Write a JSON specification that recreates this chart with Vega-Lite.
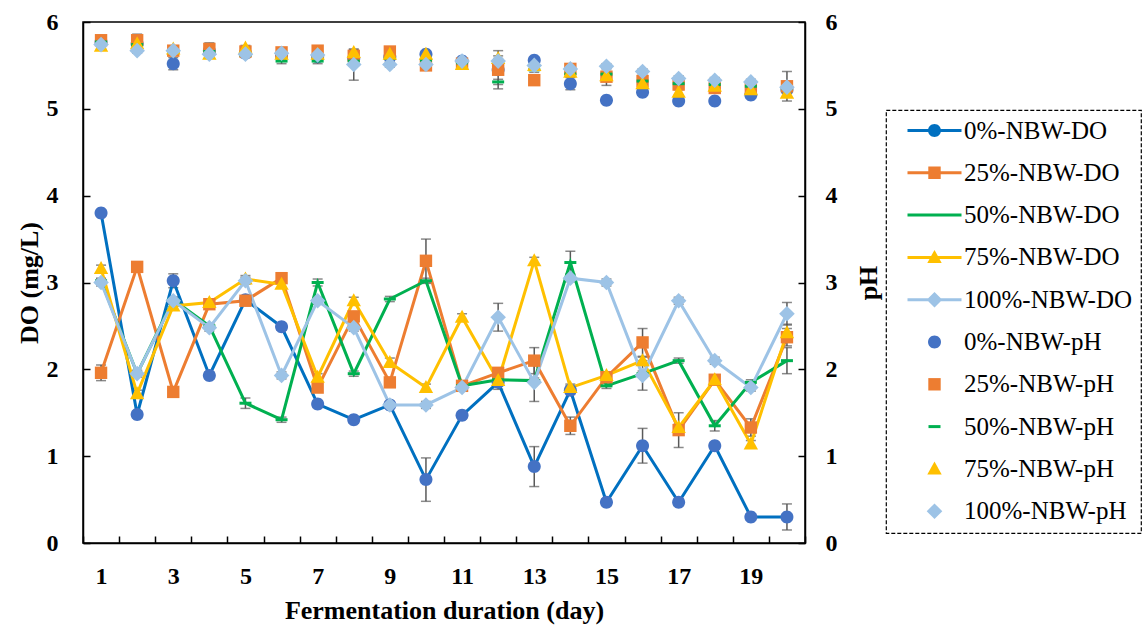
{
  "$schema": "https://vega.github.io/schema/vega-lite/v6.json",
  "autosize": {"type": "none"},
  "padding": {"left": 83, "top": 22, "right": 343, "bottom": 85},
  "width": 722,
  "height": 521,
  "background": "white",
  "config": {
    "view": {"stroke": "black", "strokeWidth": 1.5},
    "font": "Liberation Serif",
    "axis": {
      "labelFont": "Liberation Serif", "labelFontSize": 24, "labelFontWeight": "bold", "labelColor": "black",
      "titleFont": "Liberation Serif", "titleFontSize": 26, "titleFontWeight": "bold", "titleColor": "black",
      "domainColor": "black", "domainWidth": 1.5, "tickColor": "black", "tickWidth": 1.5, "grid": false
    }
  },
  "datasets": {
    "d": [
      {"day":1,"s":"0%-NBW-DO","k":"DO","v":3.80,"e":0.04},{"day":2,"s":"0%-NBW-DO","k":"DO","v":1.48,"e":0.04},{"day":3,"s":"0%-NBW-DO","k":"DO","v":3.02,"e":0.08},{"day":4,"s":"0%-NBW-DO","k":"DO","v":1.93,"e":0.04},{"day":5,"s":"0%-NBW-DO","k":"DO","v":2.80,"e":0.04},{"day":6,"s":"0%-NBW-DO","k":"DO","v":2.49,"e":0.04},{"day":7,"s":"0%-NBW-DO","k":"DO","v":1.60,"e":0.04},{"day":8,"s":"0%-NBW-DO","k":"DO","v":1.42,"e":0.04},{"day":9,"s":"0%-NBW-DO","k":"DO","v":1.59,"e":0.04},{"day":10,"s":"0%-NBW-DO","k":"DO","v":0.73,"e":0.25},{"day":11,"s":"0%-NBW-DO","k":"DO","v":1.47,"e":0.04},{"day":12,"s":"0%-NBW-DO","k":"DO","v":1.85,"e":0.04},{"day":13,"s":"0%-NBW-DO","k":"DO","v":0.88,"e":0.23},{"day":14,"s":"0%-NBW-DO","k":"DO","v":1.76,"e":0.05},{"day":15,"s":"0%-NBW-DO","k":"DO","v":0.47,"e":0.04},{"day":16,"s":"0%-NBW-DO","k":"DO","v":1.12,"e":0.2},{"day":17,"s":"0%-NBW-DO","k":"DO","v":0.47,"e":0.04},{"day":18,"s":"0%-NBW-DO","k":"DO","v":1.12,"e":0.04},{"day":19,"s":"0%-NBW-DO","k":"DO","v":0.30,"e":0.03},{"day":20,"s":"0%-NBW-DO","k":"DO","v":0.30,"e":0.15},
      {"day":1,"s":"25%-NBW-DO","k":"DO","v":1.96,"e":0.09},{"day":2,"s":"25%-NBW-DO","k":"DO","v":3.18,"e":0.04},{"day":3,"s":"25%-NBW-DO","k":"DO","v":1.74,"e":0.04},{"day":4,"s":"25%-NBW-DO","k":"DO","v":2.75,"e":0.04},{"day":5,"s":"25%-NBW-DO","k":"DO","v":2.79,"e":0.04},{"day":6,"s":"25%-NBW-DO","k":"DO","v":3.05,"e":0.04},{"day":7,"s":"25%-NBW-DO","k":"DO","v":1.79,"e":0.04},{"day":8,"s":"25%-NBW-DO","k":"DO","v":2.61,"e":0.04},{"day":9,"s":"25%-NBW-DO","k":"DO","v":1.85,"e":0.04},{"day":10,"s":"25%-NBW-DO","k":"DO","v":3.25,"e":0.25},{"day":11,"s":"25%-NBW-DO","k":"DO","v":1.81,"e":0.04},{"day":12,"s":"25%-NBW-DO","k":"DO","v":1.96,"e":0.04},{"day":13,"s":"25%-NBW-DO","k":"DO","v":2.10,"e":0.15},{"day":14,"s":"25%-NBW-DO","k":"DO","v":1.35,"e":0.1},{"day":15,"s":"25%-NBW-DO","k":"DO","v":1.91,"e":0.04},{"day":16,"s":"25%-NBW-DO","k":"DO","v":2.31,"e":0.16},{"day":17,"s":"25%-NBW-DO","k":"DO","v":1.30,"e":0.2},{"day":18,"s":"25%-NBW-DO","k":"DO","v":1.88,"e":0.05},{"day":19,"s":"25%-NBW-DO","k":"DO","v":1.33,"e":0.1},{"day":20,"s":"25%-NBW-DO","k":"DO","v":2.37,"e":0.1},
      {"day":1,"s":"50%-NBW-DO","k":"DO","v":3.02,"e":0.03},{"day":2,"s":"50%-NBW-DO","k":"DO","v":1.95,"e":0.03},{"day":3,"s":"50%-NBW-DO","k":"DO","v":2.80,"e":0.03},{"day":4,"s":"50%-NBW-DO","k":"DO","v":2.50,"e":0.03},{"day":5,"s":"50%-NBW-DO","k":"DO","v":1.61,"e":0.06},{"day":6,"s":"50%-NBW-DO","k":"DO","v":1.42,"e":0.03},{"day":7,"s":"50%-NBW-DO","k":"DO","v":3.00,"e":0.04},{"day":8,"s":"50%-NBW-DO","k":"DO","v":1.95,"e":0.03},{"day":9,"s":"50%-NBW-DO","k":"DO","v":2.81,"e":0.03},{"day":10,"s":"50%-NBW-DO","k":"DO","v":3.02,"e":0.03},{"day":11,"s":"50%-NBW-DO","k":"DO","v":1.81,"e":0.03},{"day":12,"s":"50%-NBW-DO","k":"DO","v":1.88,"e":0.03},{"day":13,"s":"50%-NBW-DO","k":"DO","v":1.87,"e":0.03},{"day":14,"s":"50%-NBW-DO","k":"DO","v":3.23,"e":0.13},{"day":15,"s":"50%-NBW-DO","k":"DO","v":1.81,"e":0.03},{"day":16,"s":"50%-NBW-DO","k":"DO","v":1.95,"e":0.03},{"day":17,"s":"50%-NBW-DO","k":"DO","v":2.10,"e":0.03},{"day":18,"s":"50%-NBW-DO","k":"DO","v":1.35,"e":0.06},{"day":19,"s":"50%-NBW-DO","k":"DO","v":1.85,"e":0.03},{"day":20,"s":"50%-NBW-DO","k":"DO","v":2.10,"e":0.15},
      {"day":1,"s":"75%-NBW-DO","k":"DO","v":3.16,"e":0.04},{"day":2,"s":"75%-NBW-DO","k":"DO","v":1.72,"e":0.04},{"day":3,"s":"75%-NBW-DO","k":"DO","v":2.73,"e":0.04},{"day":4,"s":"75%-NBW-DO","k":"DO","v":2.77,"e":0.04},{"day":5,"s":"75%-NBW-DO","k":"DO","v":3.04,"e":0.04},{"day":6,"s":"75%-NBW-DO","k":"DO","v":2.98,"e":0.04},{"day":7,"s":"75%-NBW-DO","k":"DO","v":1.91,"e":0.04},{"day":8,"s":"75%-NBW-DO","k":"DO","v":2.79,"e":0.04},{"day":9,"s":"75%-NBW-DO","k":"DO","v":2.08,"e":0.05},{"day":10,"s":"75%-NBW-DO","k":"DO","v":1.79,"e":0.04},{"day":11,"s":"75%-NBW-DO","k":"DO","v":2.60,"e":0.04},{"day":12,"s":"75%-NBW-DO","k":"DO","v":1.87,"e":0.1},{"day":13,"s":"75%-NBW-DO","k":"DO","v":3.25,"e":0.04},{"day":14,"s":"75%-NBW-DO","k":"DO","v":1.79,"e":0.04},{"day":15,"s":"75%-NBW-DO","k":"DO","v":1.93,"e":0.04},{"day":16,"s":"75%-NBW-DO","k":"DO","v":2.10,"e":0.04},{"day":17,"s":"75%-NBW-DO","k":"DO","v":1.33,"e":0.04},{"day":18,"s":"75%-NBW-DO","k":"DO","v":1.88,"e":0.04},{"day":19,"s":"75%-NBW-DO","k":"DO","v":1.14,"e":0.04},{"day":20,"s":"75%-NBW-DO","k":"DO","v":2.42,"e":0.1},
      {"day":1,"s":"100%-NBW-DO","k":"DO","v":3.00,"e":0.04},{"day":2,"s":"100%-NBW-DO","k":"DO","v":1.95,"e":0.04},{"day":3,"s":"100%-NBW-DO","k":"DO","v":2.79,"e":0.04},{"day":4,"s":"100%-NBW-DO","k":"DO","v":2.48,"e":0.04},{"day":5,"s":"100%-NBW-DO","k":"DO","v":3.02,"e":0.04},{"day":6,"s":"100%-NBW-DO","k":"DO","v":1.93,"e":0.04},{"day":7,"s":"100%-NBW-DO","k":"DO","v":2.79,"e":0.04},{"day":8,"s":"100%-NBW-DO","k":"DO","v":2.48,"e":0.04},{"day":9,"s":"100%-NBW-DO","k":"DO","v":1.59,"e":0.04},{"day":10,"s":"100%-NBW-DO","k":"DO","v":1.59,"e":0.04},{"day":11,"s":"100%-NBW-DO","k":"DO","v":1.79,"e":0.04},{"day":12,"s":"100%-NBW-DO","k":"DO","v":2.60,"e":0.16},{"day":13,"s":"100%-NBW-DO","k":"DO","v":1.85,"e":0.22},{"day":14,"s":"100%-NBW-DO","k":"DO","v":3.05,"e":0.04},{"day":15,"s":"100%-NBW-DO","k":"DO","v":3.00,"e":0.04},{"day":16,"s":"100%-NBW-DO","k":"DO","v":1.93,"e":0.17},{"day":17,"s":"100%-NBW-DO","k":"DO","v":2.79,"e":0.04},{"day":18,"s":"100%-NBW-DO","k":"DO","v":2.10,"e":0.04},{"day":19,"s":"100%-NBW-DO","k":"DO","v":1.79,"e":0.04},{"day":20,"s":"100%-NBW-DO","k":"DO","v":2.64,"e":0.13},
      {"day":1,"s":"0%-NBW-pH","k":"pH","v":5.77,"e":0.03},{"day":2,"s":"0%-NBW-pH","k":"pH","v":5.75,"e":0.03},{"day":3,"s":"0%-NBW-pH","k":"pH","v":5.52,"e":0.07},{"day":4,"s":"0%-NBW-pH","k":"pH","v":5.67,"e":0.03},{"day":5,"s":"0%-NBW-pH","k":"pH","v":5.64,"e":0.03},{"day":6,"s":"0%-NBW-pH","k":"pH","v":5.62,"e":0.03},{"day":7,"s":"0%-NBW-pH","k":"pH","v":5.60,"e":0.03},{"day":8,"s":"0%-NBW-pH","k":"pH","v":5.58,"e":0.03},{"day":9,"s":"0%-NBW-pH","k":"pH","v":5.60,"e":0.03},{"day":10,"s":"0%-NBW-pH","k":"pH","v":5.63,"e":0.03},{"day":11,"s":"0%-NBW-pH","k":"pH","v":5.55,"e":0.03},{"day":12,"s":"0%-NBW-pH","k":"pH","v":5.45,"e":0.03},{"day":13,"s":"0%-NBW-pH","k":"pH","v":5.56,"e":0.03},{"day":14,"s":"0%-NBW-pH","k":"pH","v":5.29,"e":0.07},{"day":15,"s":"0%-NBW-pH","k":"pH","v":5.10,"e":0.03},{"day":16,"s":"0%-NBW-pH","k":"pH","v":5.19,"e":0.03},{"day":17,"s":"0%-NBW-pH","k":"pH","v":5.09,"e":0.03},{"day":18,"s":"0%-NBW-pH","k":"pH","v":5.09,"e":0.03},{"day":19,"s":"0%-NBW-pH","k":"pH","v":5.16,"e":0.03},{"day":20,"s":"0%-NBW-pH","k":"pH","v":5.22,"e":0.03},
      {"day":1,"s":"25%-NBW-pH","k":"pH","v":5.79,"e":0.03},{"day":2,"s":"25%-NBW-pH","k":"pH","v":5.79,"e":0.07},{"day":3,"s":"25%-NBW-pH","k":"pH","v":5.67,"e":0.03},{"day":4,"s":"25%-NBW-pH","k":"pH","v":5.69,"e":0.07},{"day":5,"s":"25%-NBW-pH","k":"pH","v":5.66,"e":0.03},{"day":6,"s":"25%-NBW-pH","k":"pH","v":5.65,"e":0.03},{"day":7,"s":"25%-NBW-pH","k":"pH","v":5.67,"e":0.03},{"day":8,"s":"25%-NBW-pH","k":"pH","v":5.61,"e":0.03},{"day":9,"s":"25%-NBW-pH","k":"pH","v":5.66,"e":0.03},{"day":10,"s":"25%-NBW-pH","k":"pH","v":5.50,"e":0.03},{"day":11,"s":"25%-NBW-pH","k":"pH","v":5.52,"e":0.03},{"day":12,"s":"25%-NBW-pH","k":"pH","v":5.45,"e":0.22},{"day":13,"s":"25%-NBW-pH","k":"pH","v":5.33,"e":0.03},{"day":14,"s":"25%-NBW-pH","k":"pH","v":5.46,"e":0.03},{"day":15,"s":"25%-NBW-pH","k":"pH","v":5.37,"e":0.1},{"day":16,"s":"25%-NBW-pH","k":"pH","v":5.32,"e":0.03},{"day":17,"s":"25%-NBW-pH","k":"pH","v":5.28,"e":0.03},{"day":18,"s":"25%-NBW-pH","k":"pH","v":5.24,"e":0.03},{"day":19,"s":"25%-NBW-pH","k":"pH","v":5.24,"e":0.03},{"day":20,"s":"25%-NBW-pH","k":"pH","v":5.26,"e":0.17},
      {"day":1,"s":"50%-NBW-pH","k":"pH","v":5.77,"e":0.03},{"day":2,"s":"50%-NBW-pH","k":"pH","v":5.74,"e":0.03},{"day":3,"s":"50%-NBW-pH","k":"pH","v":5.65,"e":0.03},{"day":4,"s":"50%-NBW-pH","k":"pH","v":5.66,"e":0.03},{"day":5,"s":"50%-NBW-pH","k":"pH","v":5.62,"e":0.03},{"day":6,"s":"50%-NBW-pH","k":"pH","v":5.55,"e":0.03},{"day":7,"s":"50%-NBW-pH","k":"pH","v":5.55,"e":0.03},{"day":8,"s":"50%-NBW-pH","k":"pH","v":5.55,"e":0.03},{"day":9,"s":"50%-NBW-pH","k":"pH","v":5.58,"e":0.03},{"day":10,"s":"50%-NBW-pH","k":"pH","v":5.56,"e":0.03},{"day":11,"s":"50%-NBW-pH","k":"pH","v":5.53,"e":0.03},{"day":12,"s":"50%-NBW-pH","k":"pH","v":5.31,"e":0.03},{"day":13,"s":"50%-NBW-pH","k":"pH","v":5.45,"e":0.03},{"day":14,"s":"50%-NBW-pH","k":"pH","v":5.40,"e":0.03},{"day":15,"s":"50%-NBW-pH","k":"pH","v":5.40,"e":0.03},{"day":16,"s":"50%-NBW-pH","k":"pH","v":5.32,"e":0.03},{"day":17,"s":"50%-NBW-pH","k":"pH","v":5.29,"e":0.03},{"day":18,"s":"50%-NBW-pH","k":"pH","v":5.28,"e":0.03},{"day":19,"s":"50%-NBW-pH","k":"pH","v":5.26,"e":0.03},{"day":20,"s":"50%-NBW-pH","k":"pH","v":5.24,"e":0.03},
      {"day":1,"s":"75%-NBW-pH","k":"pH","v":5.72,"e":0.03},{"day":2,"s":"75%-NBW-pH","k":"pH","v":5.75,"e":0.03},{"day":3,"s":"75%-NBW-pH","k":"pH","v":5.69,"e":0.03},{"day":4,"s":"75%-NBW-pH","k":"pH","v":5.63,"e":0.03},{"day":5,"s":"75%-NBW-pH","k":"pH","v":5.70,"e":0.03},{"day":6,"s":"75%-NBW-pH","k":"pH","v":5.63,"e":0.03},{"day":7,"s":"75%-NBW-pH","k":"pH","v":5.63,"e":0.03},{"day":8,"s":"75%-NBW-pH","k":"pH","v":5.65,"e":0.03},{"day":9,"s":"75%-NBW-pH","k":"pH","v":5.63,"e":0.03},{"day":10,"s":"75%-NBW-pH","k":"pH","v":5.63,"e":0.03},{"day":11,"s":"75%-NBW-pH","k":"pH","v":5.51,"e":0.03},{"day":12,"s":"75%-NBW-pH","k":"pH","v":5.58,"e":0.03},{"day":13,"s":"75%-NBW-pH","k":"pH","v":5.50,"e":0.03},{"day":14,"s":"75%-NBW-pH","k":"pH","v":5.42,"e":0.03},{"day":15,"s":"75%-NBW-pH","k":"pH","v":5.38,"e":0.03},{"day":16,"s":"75%-NBW-pH","k":"pH","v":5.29,"e":0.03},{"day":17,"s":"75%-NBW-pH","k":"pH","v":5.19,"e":0.03},{"day":18,"s":"75%-NBW-pH","k":"pH","v":5.26,"e":0.03},{"day":19,"s":"75%-NBW-pH","k":"pH","v":5.22,"e":0.03},{"day":20,"s":"75%-NBW-pH","k":"pH","v":5.18,"e":0.03},
      {"day":1,"s":"100%-NBW-pH","k":"pH","v":5.74,"e":0.03},{"day":2,"s":"100%-NBW-pH","k":"pH","v":5.67,"e":0.03},{"day":3,"s":"100%-NBW-pH","k":"pH","v":5.67,"e":0.03},{"day":4,"s":"100%-NBW-pH","k":"pH","v":5.63,"e":0.03},{"day":5,"s":"100%-NBW-pH","k":"pH","v":5.63,"e":0.03},{"day":6,"s":"100%-NBW-pH","k":"pH","v":5.64,"e":0.03},{"day":7,"s":"100%-NBW-pH","k":"pH","v":5.62,"e":0.03},{"day":8,"s":"100%-NBW-pH","k":"pH","v":5.51,"e":0.18},{"day":9,"s":"100%-NBW-pH","k":"pH","v":5.51,"e":0.03},{"day":10,"s":"100%-NBW-pH","k":"pH","v":5.51,"e":0.03},{"day":11,"s":"100%-NBW-pH","k":"pH","v":5.55,"e":0.03},{"day":12,"s":"100%-NBW-pH","k":"pH","v":5.55,"e":0.03},{"day":13,"s":"100%-NBW-pH","k":"pH","v":5.50,"e":0.03},{"day":14,"s":"100%-NBW-pH","k":"pH","v":5.46,"e":0.03},{"day":15,"s":"100%-NBW-pH","k":"pH","v":5.49,"e":0.03},{"day":16,"s":"100%-NBW-pH","k":"pH","v":5.43,"e":0.03},{"day":17,"s":"100%-NBW-pH","k":"pH","v":5.35,"e":0.03},{"day":18,"s":"100%-NBW-pH","k":"pH","v":5.33,"e":0.03},{"day":19,"s":"100%-NBW-pH","k":"pH","v":5.31,"e":0.03},{"day":20,"s":"100%-NBW-pH","k":"pH","v":5.25,"e":0.03}
    ]
  },
  "data": {"name": "d"},
  "encoding": {
    "x": {
      "field": "day", "type": "ordinal",
      "scale": {"type": "band", "paddingInner": 0, "paddingOuter": 0},
      "axis": {
        "title": "Fermentation duration (day)", "labelAngle": 0, "tickBand": "extent",
        "labelExpr": "datum.value % 2 == 1 ? datum.label : ''",
        "tickSize": -7, "labelPadding": 28, "titlePadding": 9
      }
    }
  },
  "layer": [
    {
      "transform": [{"filter": "datum.k == 'DO'"}],
      "encoding": {
        "y": {"field": "v", "type": "quantitative", "scale": {"domain": [0, 6]},
          "axis": {"orient": "left", "title": "DO (mg/L)", "values": [0,1,2,3,4,5,6], "tickSize": -7, "labelPadding": 32, "titlePadding": 4}}
      },
      "layer": [
        {"mark": {"type": "errorbar", "color": "#595959", "ticks": {"size": 10}, "rule": {"strokeWidth": 1.5}, "thickness": 1.5},
         "encoding": {"yError": {"field": "e"}}},
        {"mark": {"type": "line", "strokeWidth": 3},
         "encoding": {
           "stroke": {"field": "s", "type": "nominal", "legend": null,
             "scale": {"domain": ["0%-NBW-DO","25%-NBW-DO","50%-NBW-DO","75%-NBW-DO","100%-NBW-DO"],
                       "range": ["#0070C0","#ED7D31","#00B050","#FFC000","#9DC3E6"]}}
         }},
        {"transform": [{"filter": "datum.s == '0%-NBW-DO'"}],
         "mark": {"type": "point", "filled": true, "size": 400, "opacity": 1, "color": "#4472C4", "shape": "M-0.65,0A0.65,0.65 0 1,1 0.65,0A0.65,0.65 0 1,1 -0.65,0Z"}},
        {"transform": [{"filter": "datum.s == '25%-NBW-DO'"}],
         "mark": {"type": "point", "filled": true, "size": 400, "opacity": 1, "color": "#ED7D31", "shape": "M-0.62,-0.62H0.62V0.62H-0.62Z"}},
        {"transform": [{"filter": "datum.s == '50%-NBW-DO'"}],
         "mark": {"type": "point", "filled": true, "size": 400, "opacity": 1, "color": "#00B050", "shape": "M-0.6,-0.15H0.6V0.15H-0.6Z"}},
        {"transform": [{"filter": "datum.s == '75%-NBW-DO'"}],
         "mark": {"type": "point", "filled": true, "size": 400, "opacity": 1, "color": "#FFC000", "shape": "M0,-0.75L0.72,0.55H-0.72Z"}},
        {"transform": [{"filter": "datum.s == '100%-NBW-DO'"}],
         "mark": {"type": "point", "filled": true, "size": 400, "opacity": 1, "color": "#9DC3E6", "shape": "M0,-0.78L0.78,0L0,0.78L-0.78,0Z"}}
      ]
    },
    {
      "transform": [{"filter": "datum.k == 'pH'"}],
      "encoding": {
        "y": {"field": "v", "type": "quantitative", "scale": {"domain": [0, 6]},
          "axis": {"orient": "right", "title": "pH", "titleAngle": 270, "values": [0,1,2,3,4,5,6], "tickSize": -7, "labelPadding": 27, "titlePadding": 44}}
      },
      "layer": [
        {"mark": {"type": "errorbar", "color": "#595959", "ticks": {"size": 10}, "rule": {"strokeWidth": 1.5}, "thickness": 1.5},
         "encoding": {"yError": {"field": "e"}}},
        {"mark": {"type": "point", "filled": true, "size": 400, "opacity": 1},
         "encoding": {
           "color": {"field": "s", "type": "nominal",
             "scale": {"domain": ["0%-NBW-DO","25%-NBW-DO","50%-NBW-DO","75%-NBW-DO","100%-NBW-DO","0%-NBW-pH","25%-NBW-pH","50%-NBW-pH","75%-NBW-pH","100%-NBW-pH"],
                       "range": ["#0070C0","#ED7D31","#00B050","#FFC000","#9DC3E6","#4472C4","#ED7D31","#00B050","#FFC000","#9DC3E6"]},
             "legend": {
               "orient": "none", "legendX": 803, "legendY": 88, "title": null,
               "strokeColor": "black", "padding": 8, "symbolSize": 400, "symbolOffset": 28, "labelOffset": 17, "rowPadding": 16.3, "labelLimit": 300,
               "labelFont": "Liberation Serif", "labelFontSize": 25, "labelColor": "black", "symbolStrokeWidth": 0, "symbolOpacity": 1,
               "encode": {"legend": {"update": {"strokeDash": {"value": [4, 2]}, "strokeWidth": {"value": 1.2}}}}
             }},
           "shape": {"field": "s", "type": "nominal",
             "scale": {"domain": ["0%-NBW-DO","25%-NBW-DO","50%-NBW-DO","75%-NBW-DO","100%-NBW-DO","0%-NBW-pH","25%-NBW-pH","50%-NBW-pH","75%-NBW-pH","100%-NBW-pH"],
                       "range": [
                         "M-2.7,-0.15H2.7V0.15H-2.7Z M-0.65,0A0.65,0.65 0 1,1 0.65,0A0.65,0.65 0 1,1 -0.65,0Z",
                         "M-2.7,-0.15H2.7V0.15H-2.7Z M-0.62,-0.62H0.62V0.62H-0.62Z",
                         "M-2.7,-0.15H2.7V0.15H-2.7Z",
                         "M-2.7,-0.15H2.7V0.15H-2.7Z M0,-0.75L0.72,0.55H-0.72Z",
                         "M-2.7,-0.15H2.7V0.15H-2.7Z M0,-0.78L0.78,0L0,0.78L-0.78,0Z",
                         "M-0.65,0A0.65,0.65 0 1,1 0.65,0A0.65,0.65 0 1,1 -0.65,0Z",
                         "M-0.62,-0.62H0.62V0.62H-0.62Z",
                         "M-0.6,-0.15H0.6V0.15H-0.6Z",
                         "M0,-0.75L0.72,0.55H-0.72Z",
                         "M0,-0.78L0.78,0L0,0.78L-0.78,0Z"]},
             "legend": {
               "orient": "none", "legendX": 803, "legendY": 88, "title": null,
               "strokeColor": "black", "padding": 8, "symbolSize": 400, "symbolOffset": 28, "labelOffset": 17, "rowPadding": 16.3, "labelLimit": 300,
               "labelFont": "Liberation Serif", "labelFontSize": 25, "labelColor": "black", "symbolStrokeWidth": 0, "symbolOpacity": 1,
               "encode": {"legend": {"update": {"strokeDash": {"value": [4, 2]}, "strokeWidth": {"value": 1.2}}}}
             }}
         }}
      ]
    }
  ],
  "resolve": {"axis": {"y": "independent"}}
}
